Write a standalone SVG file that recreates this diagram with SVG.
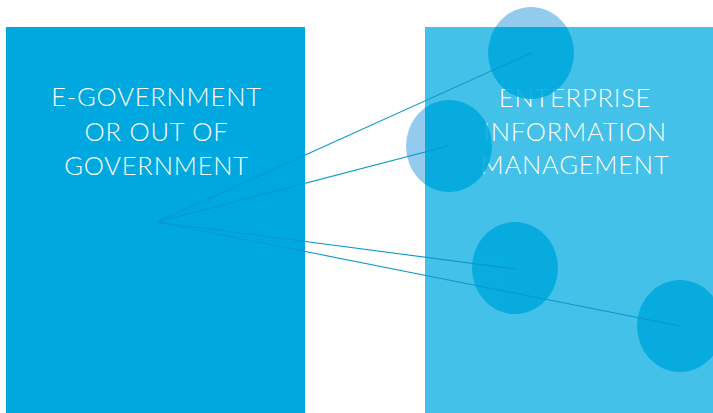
<svg xmlns="http://www.w3.org/2000/svg" width="713" height="413" viewBox="0 0 713 413">
<style>
.t{font-family:Lato,"Open Sans",sans-serif;font-size:25.5px;fill:#fff;text-anchor:middle;font-weight:300;letter-spacing:0.8px}
.lc{fill:#92cbee}
.dc{fill:#00a9dc}
.ln{stroke:#0a97cc;stroke-width:1.1;fill:none}
</style>
<defs>
<clipPath id="rc"><rect x="425" y="27" width="288" height="386"/></clipPath>
</defs>
<rect width="713" height="413" fill="#fff"/>
<g id="left">
<rect x="6" y="27" width="299" height="386" fill="#00a8e0"/>
<text class="t" x="156.5" y="106">E-GOVERNMENT</text>
<text class="t" x="156.5" y="141">OR OUT OF</text>
<text class="t" x="156.5" y="175">GOVERNMENT</text>
</g>
<g id="right">
<ellipse class="lc" cx="531" cy="53" rx="43" ry="46"/>
<ellipse class="lc" cx="449" cy="146" rx="43" ry="46"/>
<rect x="425" y="27" width="288" height="386" fill="#43c1e8"/>
<text class="t" x="575" y="107">ENTERPRISE</text>
<text class="t" x="575" y="141">INFORMATION</text>
<text class="t" x="575" y="174">MANAGEMENT</text>
</g>
<g id="circles" clip-path="url(#rc)" opacity="0.88">
<ellipse id="c1" class="dc" cx="531" cy="53" rx="43" ry="46"/>
<ellipse id="c2" class="dc" cx="449" cy="146" rx="43" ry="46"/>
<ellipse id="c3" class="dc" cx="515" cy="268" rx="43" ry="46"/>
<ellipse id="c4" class="dc" cx="680" cy="326" rx="43" ry="46"/>
</g>
<g id="connectors">
<line class="ln" x1="157" y1="222" x2="531" y2="53"/>
<line class="ln" x1="157" y1="222" x2="448" y2="146"/>
<line class="ln" x1="157" y1="222" x2="515" y2="269"/>
<line class="ln" x1="157" y1="222" x2="680" y2="326"/>
</g>
</svg>
